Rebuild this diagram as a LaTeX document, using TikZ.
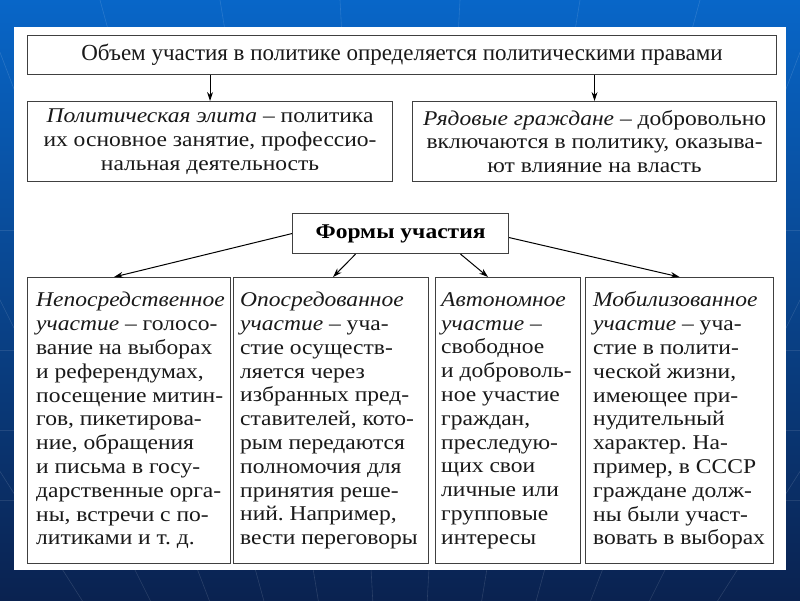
\documentclass[tikz,border=0pt]{standalone}
\usepackage{fontspec}
\setmainfont{Liberation Serif}[FakeStretch=1.12]
\newfontfamily\headfam{Liberation Serif}
\usetikzlibrary{arrows.meta,calc}
\definecolor{bgtop}{RGB}{8,102,200}
\definecolor{bgbot}{RGB}{10,34,80}
\newcommand\bodyfont{\frenchspacing\fontsize{21}{23.8}\selectfont}
\newcommand\headfont{\headfam\fontsize{23}{26}\selectfont}
\frenchspacing
\begin{document}
\begin{tikzpicture}[x=1pt,y=-1pt,
  box/.style={draw=black!75, line width=1.1pt, inner sep=0pt, anchor=north west, fill=white},
  txt/.style={align=left, inner sep=0pt, font=\bodyfont, text=black!90},
  arr/.style={-{Stealth[length=9pt,width=6pt]}, line width=1pt, draw=black}]
\useasboundingbox (0,0) rectangle (800,600);
\shade[top color=bgtop, bottom color=bgbot] (0,0) rectangle (800,600);
\foreach \xx in {-500,-300,-150,-20,100,220,340,460,580,700,820,950,1100,1300}
  \draw[white, opacity=0.13, line width=0.6pt] (400,1100) -- (\xx,0);
\foreach \yy in {230,350,430,500}
  \draw[white, opacity=0.1, line width=0.6pt] (0,\yy) -- (800,\yy);
\fill[white] (14,27) rectangle (786,570);

\node[box, minimum width=749pt, minimum height=39pt, font=\headfont, text=black!90] (top) at (27,35)
  {Объем участия в политике определяется политическими правами};

\node[box, minimum width=365pt, minimum height=80pt, align=center, font=\bodyfont, text=black!90] (elite) at (27,101)
  {\textit{Политическая элита} – политика\\их основное занятие, профессио-\\нальная деятельность};
\node[box, minimum width=364pt, minimum height=80pt, align=center, font=\bodyfont, text=black!90] (cit) at (412,101)
  {\textit{Рядовые граждане} – добровольно\\включаются в политику, оказыва-\\ют влияние на власть};

\node[box, minimum width=216pt, minimum height=40pt, font=\bodyfont\bfseries] (forms) at (292,213)
  {Формы участия};

\node[box, minimum width=203pt, minimum height=286pt] (b1) at (27,277) {};
\node[box, minimum width=195pt, minimum height=286pt] (b2) at (233,277) {};
\node[box, minimum width=145pt, minimum height=286pt] (b3) at (435,277) {};
\node[box, minimum width=188pt, minimum height=286pt] (b4) at (585,277) {};

\node[txt, anchor=west] (t1) at ([xshift=9pt]b1.west)
  {\textit{Непосредственное}\\\textit{участие} – голосо-\\вание на выборах\\и референдумах,\\посещение митин-\\гов, пикетирова-\\ние, обращения\\и письма в госу-\\дарственные орга-\\ны, встречи с по-\\литиками и т. д.};
\node[txt, anchor=west] (t2) at ([xshift=7pt]b2.west)
  {\textit{Опосредованное}\\\textit{участие} – уча-\\стие осуществ-\\ляется через\\избранных пред-\\ставителей, кото-\\рым передаются\\полномочия для\\принятия реше-\\ний. Например,\\вести переговоры};
\node[txt, anchor=west] (t3) at ([xshift=6pt]b3.west)
  {\textit{Автономное}\\\textit{участие} –\\свободное\\и доброволь-\\ное участие\\граждан,\\преследую-\\щих свои\\личные или\\групповые\\интересы};
\node[txt, anchor=west] (t4) at ([xshift=8pt]b4.west)
  {\textit{Мобилизованное}\\\textit{участие} – уча-\\стие в полити-\\ческой жизни,\\имеющее при-\\нудительный\\характер. На-\\пример, в СССР\\граждане долж-\\ны были участ-\\вовать в выборах};

\draw[arr] (top.south -| elite.north) -- (elite.north);
\draw[arr] (top.south -| cit.north) -- (cit.north);
\draw[arr] (forms.west) -- ([xshift=-15pt]b1.north);
\draw[arr] ([xshift=-45pt]forms.south) -- ([xshift=2pt]b2.north);
\draw[arr] ([xshift=60pt]forms.south) -- ([xshift=-20pt]b3.north);
\draw[arr] ([yshift=-4pt]forms.east) -- (b4.north);
\end{tikzpicture}
\end{document}
